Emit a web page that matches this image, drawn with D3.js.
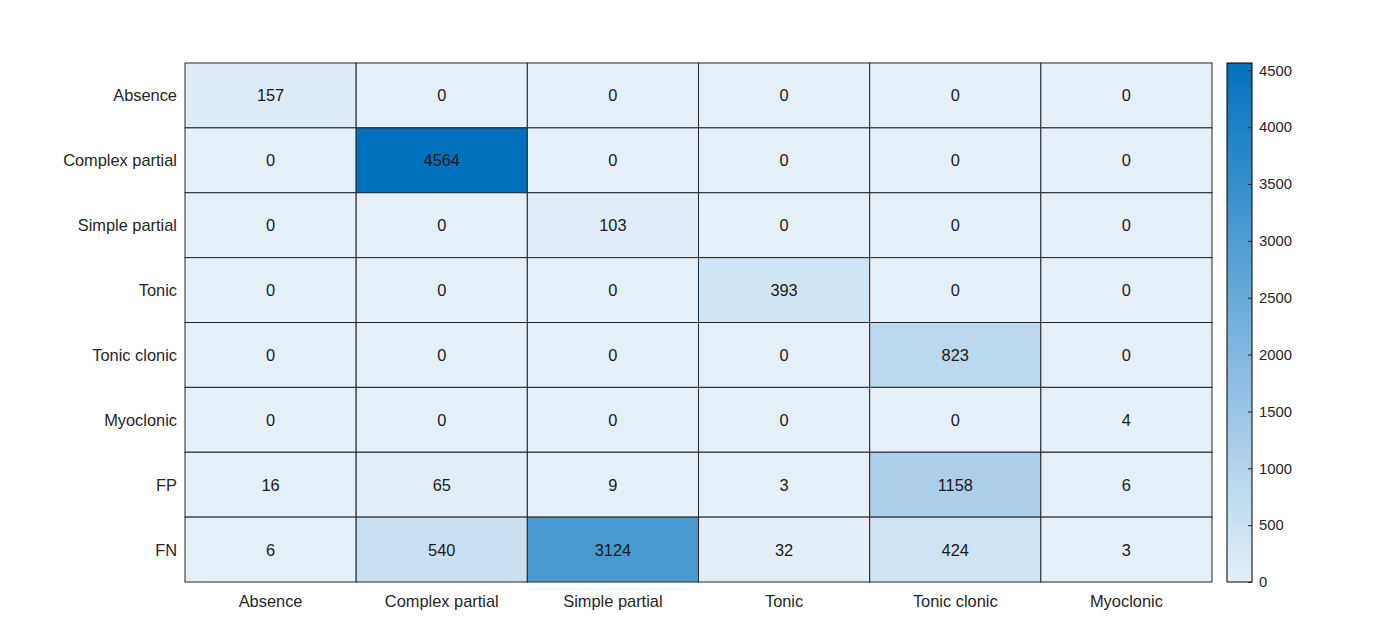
<!DOCTYPE html>
<html>
<head>
	<meta charset="utf-8">
	<title>Seizure confusion heatmap</title>
	<script type="text/javascript" src="https://cdn.jsdelivr.net/npm/d3@7"></script>
	<style>
		body { margin: 0; background: #fff; }
		text { font-family: "Liberation Sans", Arial, sans-serif; }
	</style>
</head>
<body>
	<script type="text/javascript">
		var width = 1387, height = 638;
		// row / column categories
		var rowLabels = ["Absence", "Complex partial", "Simple partial", "Tonic",
			"Tonic clonic", "Myoclonic", "FP", "FN"];
		var colLabels = ["Absence", "Complex partial", "Simple partial", "Tonic",
			"Tonic clonic", "Myoclonic"];
		// counts, one array per row
		var rowAbsence = [157, 0, 0, 0, 0, 0];
		var rowComplex = [0, 4564, 0, 0, 0, 0];
		var rowSimple = [0, 0, 103, 0, 0, 0];
		var rowTonic = [0, 0, 0, 393, 0, 0];
		var rowTonicClonic = [0, 0, 0, 0, 823, 0];
		var rowMyoclonic = [0, 0, 0, 0, 0, 4];
		var rowFP = [16, 65, 9, 3, 1158, 6];
		var rowFN = [6, 540, 3124, 32, 424, 3];
		var matrix = [rowAbsence, rowComplex, rowSimple, rowTonic,
			rowTonicClonic, rowMyoclonic, rowFP, rowFN];
		var colorTicks = [0, 500, 1000, 1500, 2000, 2500, 3000, 3500, 4000, 4500];

		var plotLeft = 185, plotRight = 1212, plotTop = 63, plotBottom = 582;

		var svg = d3.select("body").append("svg")
			.attr("width", width)
			.attr("height", height);

		var x = d3.scaleBand().domain(colLabels).range([plotLeft, plotRight]);
		var y = d3.scaleBand().domain(rowLabels).range([plotTop, plotBottom]);

		var maxVal = d3.max(matrix, function(r){ return d3.max(r); });
		var color = d3.scaleLinear()
			.domain([0, maxVal])
			.range(["#e5eff8", "#0072bd"]);

		// flatten to cells
		var cells = [];
		matrix.forEach(function(row, i){
			row.forEach(function(v, j){
				cells.push({r: rowLabels[i], c: colLabels[j], v: v});
			});
		});

		var g = svg.append("g");
		g.selectAll("rect.cell")
			.data(cells)
			.enter()
			.append("rect")
			.attr("class", "cell")
			.attr("x", function(d){ return x(d.c); })
			.attr("y", function(d){ return y(d.r); })
			.attr("width", x.bandwidth())
			.attr("height", y.bandwidth())
			.attr("fill", function(d){ return color(d.v); })
			.attr("stroke", "#262626")
			.attr("stroke-width", 1);

		g.selectAll("text.val")
			.data(cells)
			.enter()
			.append("text")
			.attr("class", "val")
			.attr("x", function(d){ return x(d.c) + x.bandwidth() / 2; })
			.attr("y", function(d){ return y(d.r) + y.bandwidth() / 2; })
			.attr("text-anchor", "middle")
			.attr("dominant-baseline", "central")
			.attr("font-size", "16.4px")
			.attr("fill", "#1a1a1a")
			.text(function(d){ return d.v; });

		// axes labels (no lines, MATLAB heatmap style)
		svg.selectAll("text.ylab")
			.data(rowLabels)
			.enter()
			.append("text")
			.attr("class", "ylab")
			.attr("x", plotLeft - 8)
			.attr("y", function(d){ return y(d) + y.bandwidth() / 2; })
			.attr("text-anchor", "end")
			.attr("dominant-baseline", "central")
			.attr("font-size", "16.4px")
			.attr("fill", "#262626")
			.text(function(d){ return d; });

		svg.selectAll("text.xlab")
			.data(colLabels)
			.enter()
			.append("text")
			.attr("class", "xlab")
			.attr("x", function(d){ return x(d) + x.bandwidth() / 2; })
			.attr("y", plotBottom + 19)
			.attr("text-anchor", "middle")
			.attr("dominant-baseline", "central")
			.attr("font-size", "16.4px")
			.attr("fill", "#262626")
			.text(function(d){ return d; });

		// colorbar
		var cbLeft = 1227, cbWidth = 25;
		var cbScale = d3.scaleLinear().domain([0, maxVal]).range([plotBottom, plotTop]);
		var defs = svg.append("defs");
		var grad = defs.append("linearGradient")
			.attr("id", "cbgrad")
			.attr("x1", "0").attr("y1", "1").attr("x2", "0").attr("y2", "0");
		grad.append("stop").attr("offset", "0%").attr("stop-color", color(0));
		grad.append("stop").attr("offset", "100%").attr("stop-color", color(maxVal));

		svg.append("rect")
			.attr("x", cbLeft)
			.attr("y", plotTop)
			.attr("width", cbWidth)
			.attr("height", plotBottom - plotTop)
			.attr("fill", "url(#cbgrad)")
			.attr("stroke", "#000")
			.attr("stroke-width", 1);

		var cbAxis = d3.axisRight(cbScale)
			.tickValues(colorTicks)
			.tickFormat(d3.format("d"))
			.tickSizeInner(-4)
			.tickSizeOuter(0)
			.tickPadding(7);
		var cbg = svg.append("g")
			.attr("transform", "translate(" + (cbLeft + cbWidth) + ",0)")
			.call(cbAxis);
		cbg.select(".domain").remove();
		cbg.selectAll("line").attr("stroke", "#262626");
		cbg.selectAll("text")
			.style("font-size", "14.8px")
			.style("font-family", "Liberation Sans, Arial, sans-serif")
			.attr("fill", "#262626");
	</script>
</body>
</html>
